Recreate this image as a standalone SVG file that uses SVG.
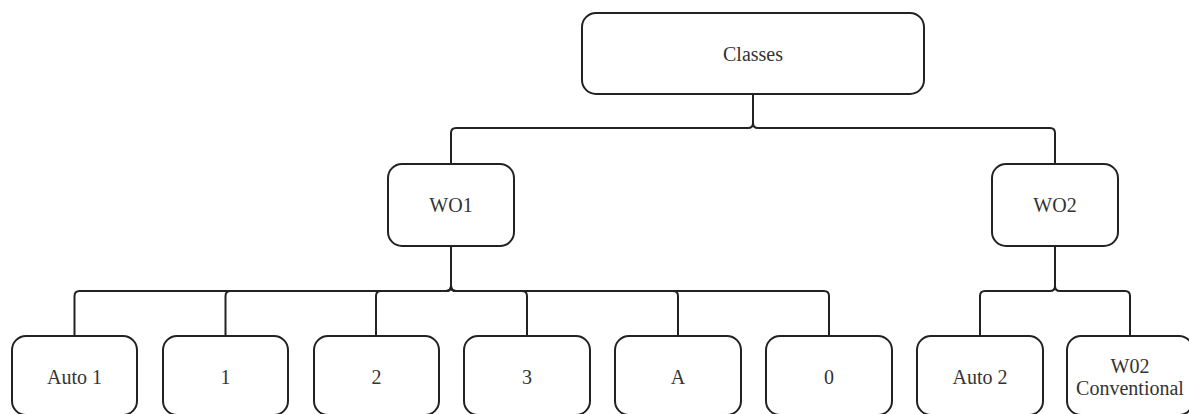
<svg xmlns="http://www.w3.org/2000/svg" width="1189" height="414" viewBox="0 0 1189 414">
<style>
.box{fill:#fff;stroke:#222;stroke-width:2}
.lbl{font-family:'Liberation Serif',Tinos,'Times New Roman',Times,'Noto Serif','DejaVu Serif',serif;font-size:20px;fill:#333;text-anchor:middle}
.edge{fill:none;stroke:#222;stroke-width:2}
</style>
<rect width="1189" height="414" fill="#fff"/>
<g id="connectors">
<path class="edge" d="M753,94 V123 Q753,128 748,128 H456 Q451,128 451,133 V164"/>
<path class="edge" d="M753,94 V123 Q753,128 758,128 H1050 Q1055,128 1055,133 V164"/>
<path class="edge" d="M451,246 V286 Q451,291 446,291 H79.5 Q74.5,291 74.5,296 V336"/>
<path class="edge" d="M451,246 V286 Q451,291 446,291 H230.5 Q225.5,291 225.5,296 V336"/>
<path class="edge" d="M451,246 V286 Q451,291 446,291 H381 Q376,291 376,296 V336"/>
<path class="edge" d="M451,246 V286 Q451,291 456,291 H522 Q527,291 527,296 V336"/>
<path class="edge" d="M451,246 V286 Q451,291 456,291 H673 Q678,291 678,296 V336"/>
<path class="edge" d="M451,246 V286 Q451,291 456,291 H824 Q829,291 829,296 V336"/>
<path class="edge" d="M1055,246 V286 Q1055,291 1050,291 H985 Q980,291 980,296 V336"/>
<path class="edge" d="M1055,246 V286 Q1055,291 1060,291 H1125 Q1130,291 1130,296 V336"/>
</g>
<g id="classes"><rect class="box" x="582" y="13" width="342" height="81" rx="14"/><text class="lbl" x="753" y="61" font-family="Liberation Serif, serif">Classes</text></g>
<g id="wo1"><rect class="box" x="388" y="164" width="126" height="82" rx="14"/><text class="lbl" x="451" y="212">WO1</text></g>
<g id="wo2"><rect class="box" x="992" y="164" width="126" height="82" rx="14"/><text class="lbl" x="1055" y="212">WO2</text></g>
<g id="auto1"><rect class="box" x="12" y="336" width="125" height="79" rx="14"/><text class="lbl" x="74.5" y="384">Auto 1</text></g>
<g id="n1"><rect class="box" x="163" y="336" width="125" height="79" rx="14"/><text class="lbl" x="225.5" y="384">1</text></g>
<g id="n2"><rect class="box" x="314" y="336" width="125" height="79" rx="14"/><text class="lbl" x="376.5" y="384">2</text></g>
<g id="n3"><rect class="box" x="464" y="336" width="126" height="79" rx="14"/><text class="lbl" x="527" y="384">3</text></g>
<g id="nA"><rect class="box" x="615" y="336" width="126" height="79" rx="14"/><text class="lbl" x="678" y="384">A</text></g>
<g id="n0"><rect class="box" x="766" y="336" width="126" height="79" rx="14"/><text class="lbl" x="829" y="384">0</text></g>
<g id="auto2"><rect class="box" x="917" y="336" width="126" height="79" rx="14"/><text class="lbl" x="980" y="384">Auto 2</text></g>
<g id="w02conv"><rect class="box" x="1067" y="336" width="126" height="79" rx="14"/><text class="lbl" x="1130" y="373">W02</text><text class="lbl" x="1130" y="395">Conventional</text></g>
</svg>
